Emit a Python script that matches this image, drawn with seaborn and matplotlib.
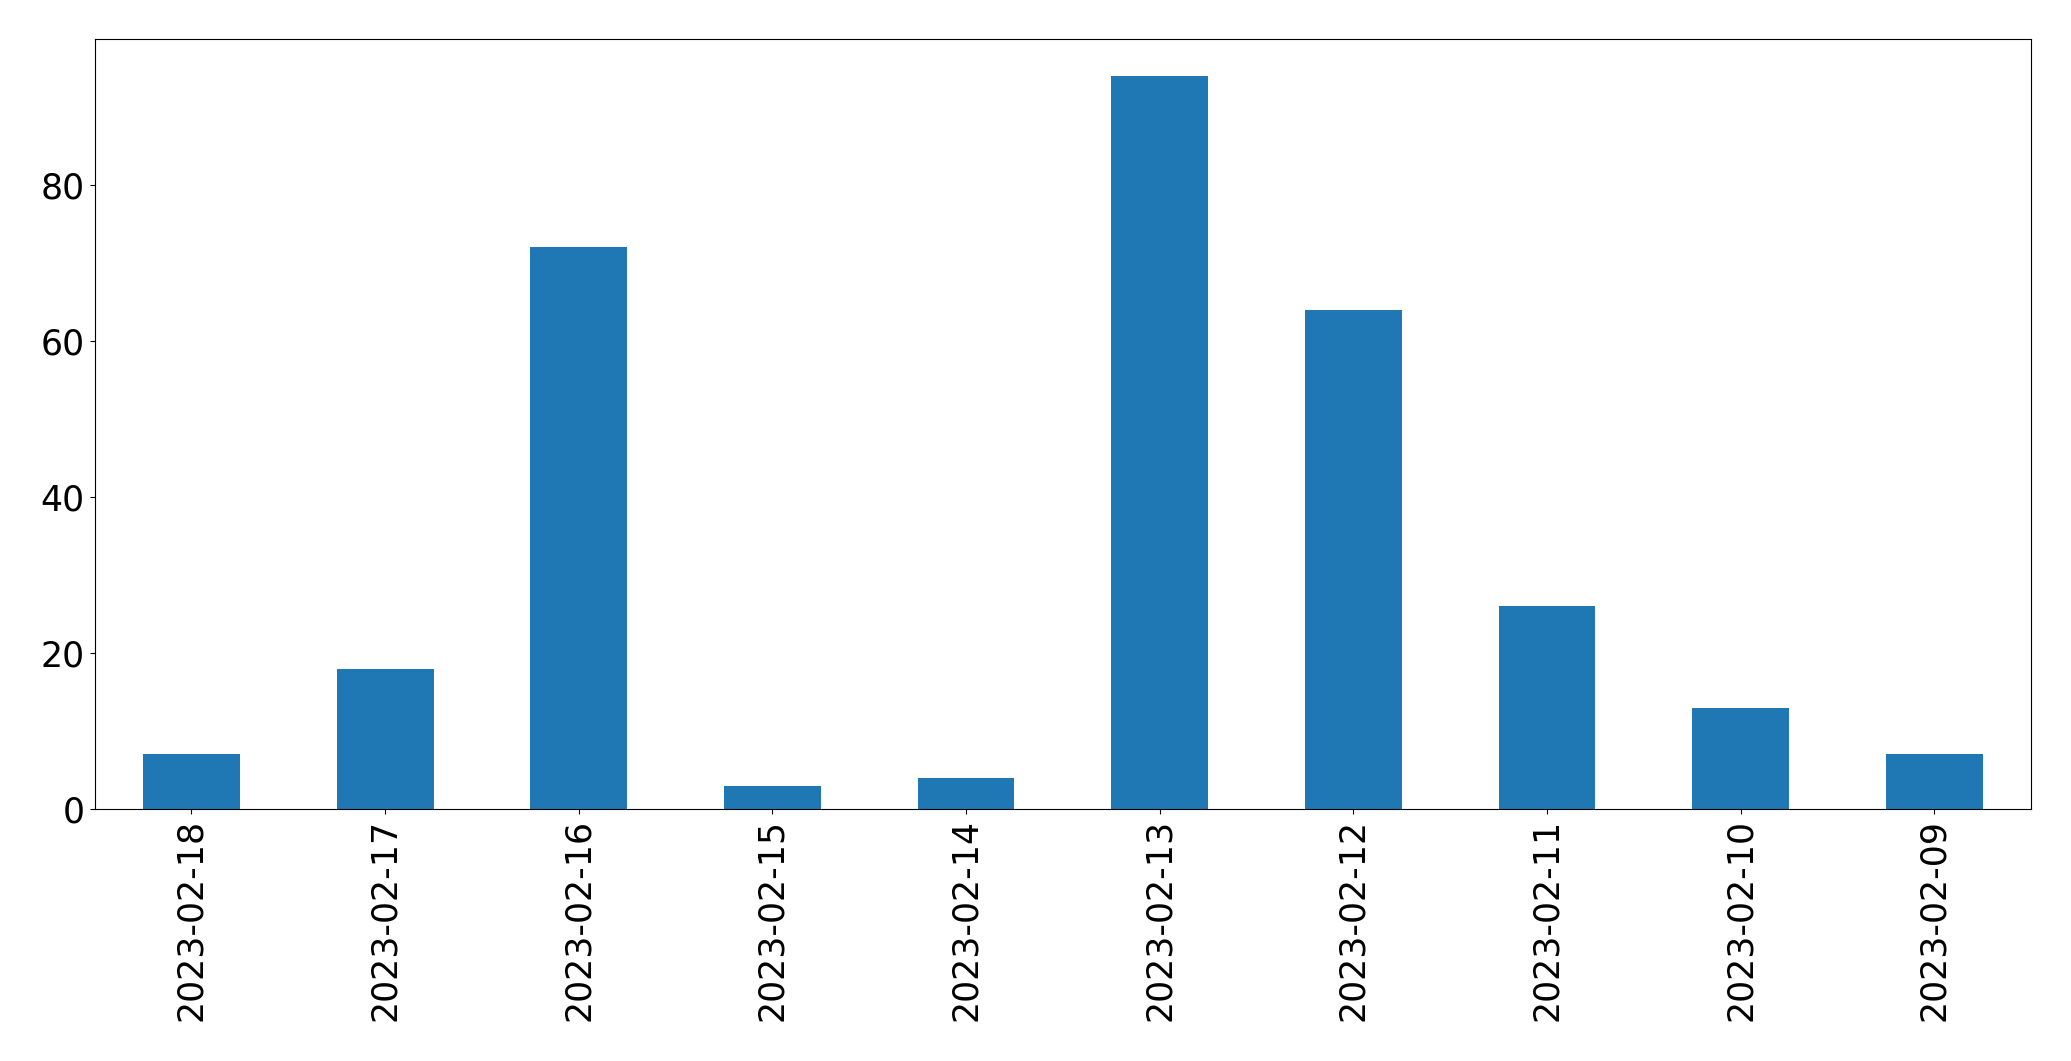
import matplotlib
matplotlib.use('Agg')
import matplotlib.pyplot as plt
import seaborn as sns

# Daily counts
dates = ['2023-02-18', '2023-02-17', '2023-02-16', '2023-02-15', '2023-02-14',
         '2023-02-13', '2023-02-12', '2023-02-11', '2023-02-10', '2023-02-09']
counts = [7, 18, 72, 3, 4, 94, 64, 26, 13, 7]

fig, ax = plt.subplots(figsize=(20.71, 10.61), dpi=100)
fig.subplots_adjust(left=0.0457, right=0.9807, top=0.9632, bottom=0.2375)

sns.barplot(x=dates, y=counts, order=dates, color='#1f77b4', saturation=1,
            width=0.5, linewidth=0, ax=ax)

ax.set_xlabel('')
ax.set_ylabel('')
ax.tick_params(axis='both', labelsize=25)
ax.tick_params(axis='x', labelrotation=90)
for side in ['top', 'right', 'left', 'bottom']:
    ax.spines[side].set_visible(True)

plt.savefig('out.png', dpi=100)
plt.close()
